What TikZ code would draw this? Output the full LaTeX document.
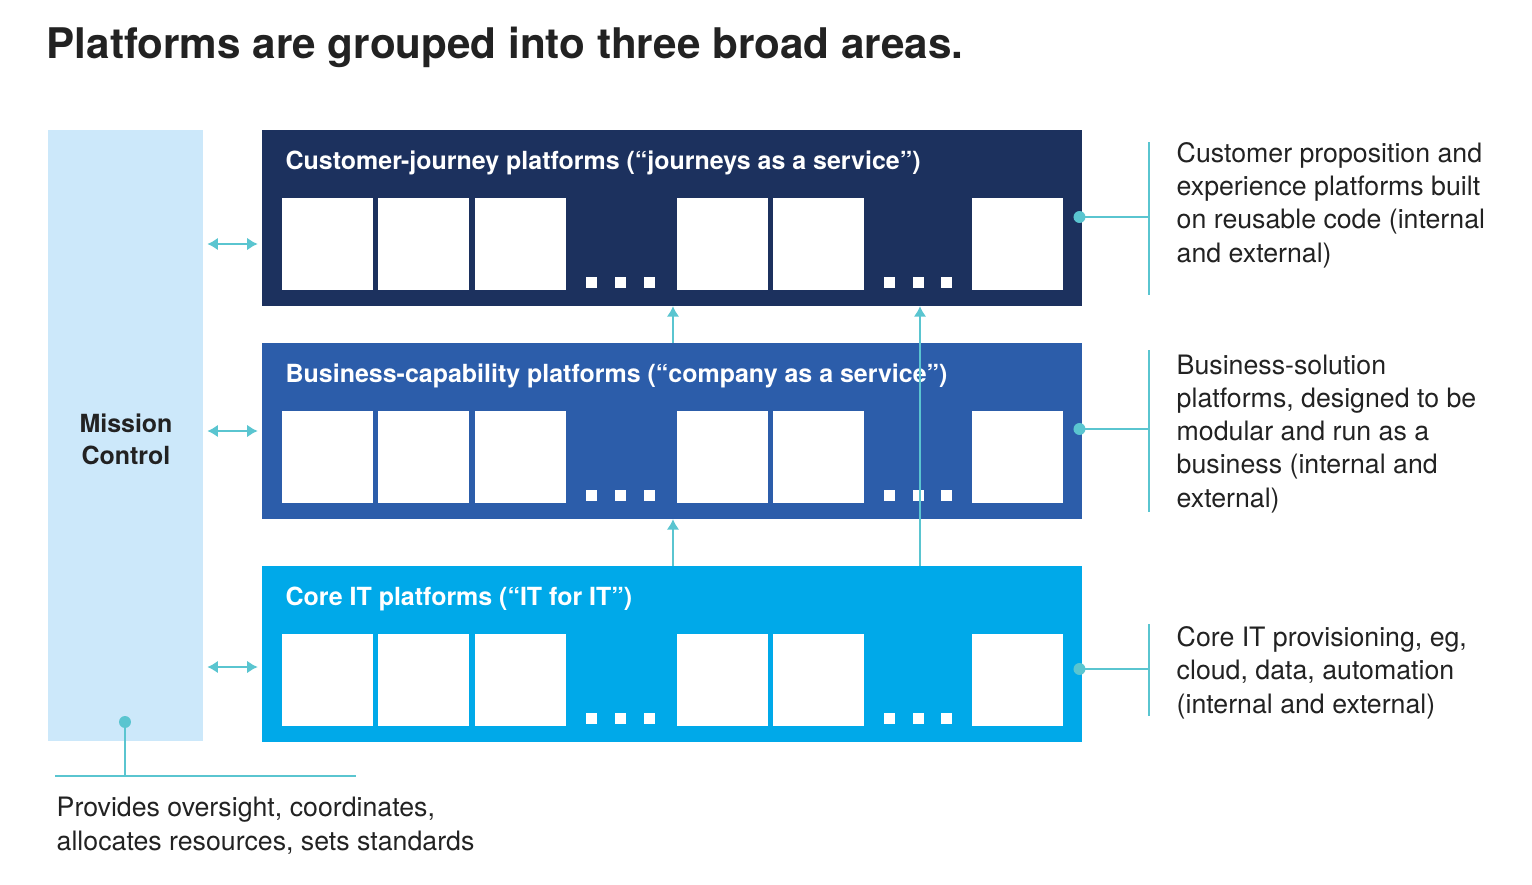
\documentclass[tikz,border=0pt]{standalone}
\usepackage{fontspec}
\setmainfont{TeX Gyre Heros}
\usetikzlibrary{arrows.meta}
\definecolor{navy}{HTML}{1C315E}
\definecolor{midblue}{HTML}{2C5DAA}
\definecolor{skyblue}{HTML}{00A9E9}
\definecolor{paleblue}{HTML}{CCE8FA}
\definecolor{teal}{HTML}{5AC5D0}
\definecolor{dtext}{HTML}{222222}
\newcommand{\notefont}{\fontsize{7.6}{9.4}\selectfont}
\newcommand{\headfont}{\fontsize{7.1}{9}\selectfont\bfseries}

\begin{document}
\begin{tikzpicture}[x=0.01cm,y=-0.01cm,
    band/.style={inner sep=0pt,outer sep=0pt,minimum width=8.2cm,minimum height=1.76cm,anchor=north west},
    link/.style={teal,line width=0.7pt},
    tip/.style={-{Latex[length=3pt,width=3.6pt]}},
    note/.style={anchor=base west,inner sep=0pt,align=left,text=dtext,font=\notefont}]
  \useasboundingbox (0,0) rectangle (1532,884);
  \node[anchor=base west,inner sep=0pt,text=dtext,font=\fontsize{12}{14}\selectfont\bfseries] (title) at (46,58)
    {Platforms are grouped into three broad areas.};

  % mission control column and the three bands
  \node[fill=paleblue,inner sep=0pt,outer sep=0pt,minimum width=1.55cm,minimum height=6.11cm,anchor=north west] (mission) at (48,130) {};
  \node[band,fill=navy] (cust) at (262,130) {};
  \node[band,fill=midblue] (biz) at (262,343) {};
  \node[band,fill=skyblue] (core) at (262,566) {};

  % base of a two-line node is its last line
  \node[anchor=base,inner sep=0pt,align=center,text=dtext,font=\fontsize{7.1}{9.1}\selectfont\bfseries] (mclabel) at (126,464)
    {Mission\\Control};

  \foreach \y/\name/\head in {
    169/custhead/Customer-journey platforms (“journeys as a service”),
    382/bizhead/Business-capability platforms (“company as a service”),
    605/corehead/Core IT platforms (“IT for IT”)
  }{
    \node[anchor=base west,inner sep=0pt,text=white,font=\headfont] (\name) at (285,\y) {\head};
  }

  % white tiles and dots
  \foreach \y in {198,411,634}{
    \foreach \x in {282,378,475,677,773,972}
      \fill[white] (\x,\y) rectangle ++(91,92);
    \foreach \x in {586,615,644,884,913,941}
      \fill[white] (\x,\y+79) rectangle ++(11,11);
  }

  % links to mission control
  \foreach \y/\band in {244/cust,431/biz,667/core}{
    \draw[link,{Latex[length=3pt,width=3.6pt]}-{Latex[length=3pt,width=3.6pt]},shorten <=1.2pt,shorten >=1.2pt]
      (mission.east |- 0,\y) -- (\band.west |- 0,\y);
  }

  % upward links between bands
  \draw[link,tip] (core.north -| 673,0) -- (biz.south -| 673,0);
  \draw[link,tip] (biz.north -| 673,0) -- (cust.south -| 673,0);
  \draw[link,tip] (core.north -| 920,0) -- (cust.south -| 920,0);

  % notes on the right (placed by their last line)
  \node[note] (custnote) at (1176,262)
    {Customer proposition and\\experience platforms built\\on reusable code (internal\\and external)};
  \node[note] (biznote) at (1176,507)
    {Business-solution\\platforms, designed to be\\modular and run as a\\business (internal and\\external)};
  \node[note] (corenote) at (1176,713)
    {Core IT provisioning, eg,\\cloud, data, automation\\(internal and external)};

  \foreach \band/\y/\top/\bot in {cust/217/142/295,biz/429/350/512,core/669/624/716}{
    \draw[link] (1149,\top) -- (1149,\bot);
    \draw[link] ([xshift=-0.03cm]\band.east |- 0,\y) -- (1149,\y);
    \fill[teal] ([xshift=-0.03cm]\band.east |- 0,\y) circle (1.7pt);
  }

  % mission control note
  \coordinate (mcdot) at (125,722);
  \draw[link] (mcdot) -- (125,776);
  \draw[link] (55,776) -- (356,776);
  \fill[teal] (mcdot) circle (1.7pt);
  \node[note,font=\fontsize{7.6}{9.6}\selectfont] (mcnote) at (56,850)
    {Provides oversight, coordinates,\\allocates resources, sets standards};
\end{tikzpicture}
\end{document}
